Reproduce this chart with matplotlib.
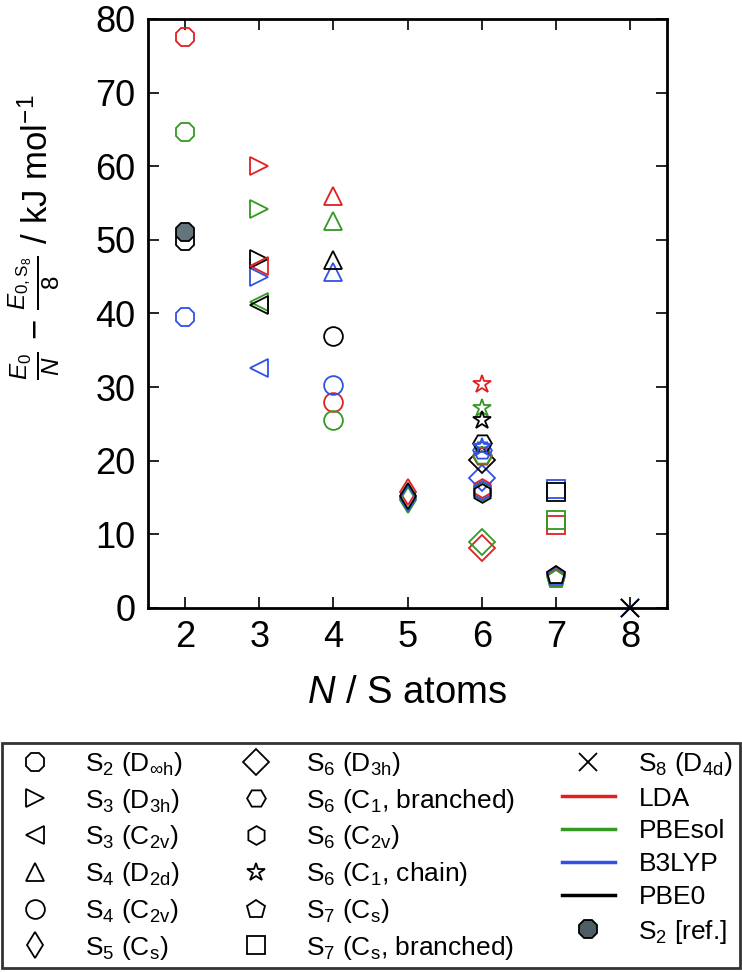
import numpy as np
import matplotlib
matplotlib.use('Agg')
import matplotlib.pyplot as plt
from matplotlib.lines import Line2D

plt.rcParams['font.family'] = ['Liberation Sans', 'DejaVu Sans']
plt.rcParams['mathtext.fontset'] = 'custom'
plt.rcParams['mathtext.rm'] = 'Liberation Sans'
plt.rcParams['mathtext.it'] = 'Liberation Sans:italic'
plt.rcParams['mathtext.bf'] = 'Liberation Sans:bold'

# structures (one entry per isomer)
labels = [r'S$_2$ (D$_{\infty\mathrm{h}}$)', r'S$_3$ (D$_{3\mathrm{h}}$)', r'S$_3$ (C$_{2\mathrm{v}}$)',
          r'S$_4$ (D$_{2\mathrm{d}}$)', r'S$_4$ (C$_{2\mathrm{v}}$)', r'S$_5$ (C$_\mathrm{s}$)',
          r'S$_6$ (D$_{3\mathrm{h}}$)', r'S$_6$ (C$_1$, branched)', r'S$_6$ (C$_{2\mathrm{v}}$)',
          r'S$_6$ (C$_1$, chain)', r'S$_7$ (C$_\mathrm{s}$)', r'S$_7$ (C$_\mathrm{s}$, branched)',
          r'S$_8$ (D$_{4\mathrm{d}}$)']
n_atoms = [2, 3, 3, 4, 4, 5, 6, 6, 6, 6, 7, 7, 8]

# relative energies per atom, kJ/mol
lda    = [77.5, 60.0, 46.4, 55.9, 28.0, 15.7,  8.1, 20.6, 16.3, 30.4, 4.1, 11.3, 0.0]
pbesol = [64.6, 54.2, 41.5, 52.5, 25.5, 14.6,  9.0, 20.8, 15.9, 27.1, 4.0, 12.0, 0.0]
b3lyp  = [39.5, 45.0, 32.6, 45.7, 30.3, 15.0, 17.6, 21.4, 16.0, 21.8, 4.3, 16.1, 0.0]
pbe0   = [49.8, 47.4, 41.2, 47.3, 37.0, 15.2, 20.1, 22.4, 15.6, 25.5, 4.5, 15.8, 0.0]

ref_n = 2
ref_e = 51.1

methods = ['LDA', 'PBEsol', 'B3LYP', 'PBE0']
colors = ['#e02020', '#339922', '#3050e8', 'black']
markers = ['8', '>', '<', '^', 'o', 'd', 'D', 'H', 'h', '*', 'p', 's', 'x']
ms = 13.5

fig = plt.figure(figsize=(7.42, 9.72), dpi=100)
ax = fig.add_axes([0.1995, 0.3745, 0.6995, 0.606])

for i in range(len(labels)):
    for vals, c in zip([lda, pbesol, b3lyp, pbe0], colors):
        ax.plot(n_atoms[i], vals[i], marker=markers[i], ms=ms, mfc='none',
                mec=c, mew=1.3, ls='none', clip_on=False)

ax.plot(ref_n, ref_e, marker='8', ms=ms, mfc='#64747d', mec='black',
        mew=1.3, ls='none')

ax.set_xlim(1.5, 8.5)
ax.set_ylim(0, 80)
ax.set_xticks(range(2, 9))
ax.set_yticks(range(0, 81, 10))
ax.tick_params(direction='in', top=True, right=True, length=8, width=1.2,
               labelsize=26, pad=9)
for s in ax.spines.values():
    s.set_linewidth(2)

ax.set_xlabel(r'$N$ / S atoms', fontsize=27.5, labelpad=14)
ax.set_ylabel(r'$\frac{E_0}{N}$ $-$ $\frac{E_{0,\mathrm{S}_8}}{8}$ / kJ mol$^{-1}$', fontsize=25)
ax.yaxis.set_label_coords(-0.165, 0.63)

handles = []
for m, lab in zip(markers, labels):
    handles.append(Line2D([], [], marker=m, ls='none', mfc='none', mec='black',
                          ms=ms, mew=1.3, label=lab))
# method lines after S8 so they land in the third column
for meth, c in zip(methods, colors):
    handles.append(Line2D([], [], color=c, lw=2.5, label=meth))
handles.append(Line2D([], [], marker='8', ls='none', mfc='#4f5d65', mec='black',
                      ms=ms, mew=1.3, label=r'S$_2$ [ref.]'))

leg = fig.legend(handles=handles, loc='lower left', ncol=3, mode='expand',
                 bbox_to_anchor=(0.003, 0.004, 0.994, 0.234), fontsize=19,
                 frameon=True, fancybox=False, edgecolor='black',
                 labelspacing=0.33, handlelength=2.0, handletextpad=0.9,
                 borderpad=0.25, borderaxespad=0)
leg.get_frame().set_linewidth(2)

fig.savefig('out.png', dpi=100)
